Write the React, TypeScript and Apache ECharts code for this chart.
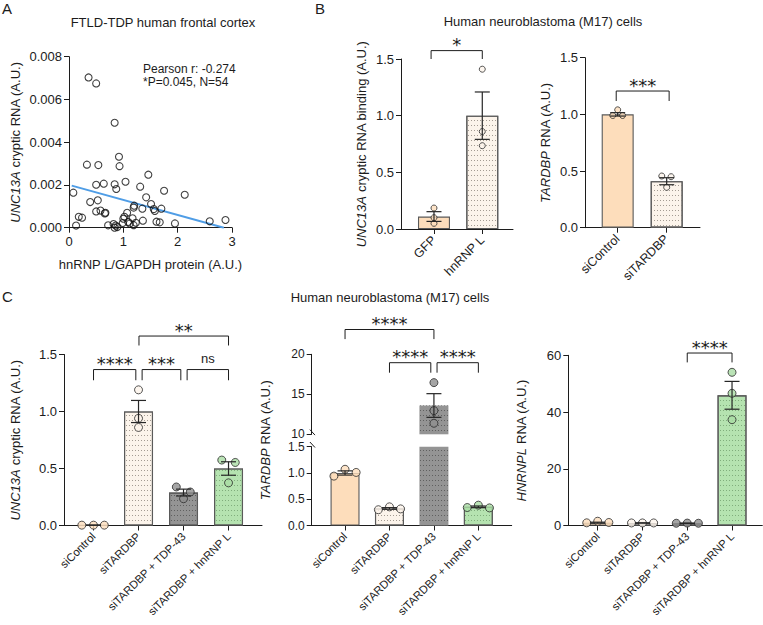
import React, { useEffect, useRef } from 'react';
import * as echarts from 'echarts';

const FONT = "'Liberation Sans', Arial, Helvetica, sans-serif";
const STAR_FONT = "'DejaVu Sans', sans-serif";
const INK = '#1c1c1c';

// ---------- Panel A : scatter ----------
const aX = [0.36, 0.50, 0.84, 0.92, 0.93, 0.33, 0.54, 1.46, 1.04, 0.50, 0.64, 0.84, 0.87, 1.31, 1.75, 2.13, 0.08, 0.39, 0.53, 1.42, 1.51, 1.20, 1.19, 1.35, 1.56, 1.58, 1.70, 0.58, 0.67, 0.50, 0.66, 0.18, 0.24, 1.07, 1.02, 1.00, 1.17, 1.36, 1.09, 1.12, 1.19, 1.23, 0.13, 0.72, 0.82, 0.86, 0.84, 0.89, 0.99, 1.61, 1.67, 1.95, 2.59, 2.88];
const aY = [0.00703, 0.00675, 0.00491, 0.00332, 0.00288, 0.00295, 0.00293, 0.00248, 0.00215, 0.00201, 0.00206, 0.00203, 0.00181, 0.00192, 0.00173, 0.00154, 0.00164, 0.00120, 0.00128, 0.00142, 0.00111, 0.00103, 0.00094, 0.00089, 0.00087, 0.00078, 0.00089, 0.00080, 0.00070, 0.00076, 0.00067, 0.00051, 0.00047, 0.00070, 0.00051, 0.00042, 0.00044, 0.00033, 0.00027, 0.00020, 0.00012, 0.00023, 0.00010, 0.00011, 0.00017, 0.00010, 0.00000, 0.00003, 0.00022, 0.00028, 0.00025, 0.00020, 0.00030, 0.00036];
const aFitX = [0.05, 2.85];
const aFitY = [0.00197, 0.0];

// ---------- Panel B left ----------
const bLeftCats = ['GFP', 'hnRNP L'];
const bLeftMeans = [0.11, 1.0];
const bLeftSem = [0.043, 0.209];
const bLeftPoints = [[0.185, 0.10, 0.05], [1.41, 0.86, 0.735]];
const bLeftJitter = [[0, 0, 0], [0, 0, 0]];
const bLeftKinds = ['peach', 'cream'];
const bLeftBrackets = [[-0.06, 1.0, 1.574, 1.5]];
const bLeftMarks = ['*'];

// ---------- Panel B right ----------
const bRightCats = ['siControl', 'siTARDBP'];
const bRightMeans = [1.0, 0.41];
const bRightSem = [0.015, 0.031];
const bRightPoints = [[0.99, 1.04, 0.99], [0.456, 0.45, 0.356]];
const bRightJitter = [[-0.1, 0, 0.1], [-0.1, 0.09, 0]];
const bRightKinds = ['peach', 'cream'];
const bRightBrackets = [[-0.03, 1.05, 1.206, 1.118]];
const bRightMarks = ['***'];

// ---------- Panel C ----------
const cCats = ['siControl', 'siTARDBP', 'siTARDBP + TDP-43', 'siTARDBP + hnRNP L'];
const cKinds = ['peach', 'cream', 'gray', 'green'];

const cLeftMeans = [0.003, 1.0, 0.289, 0.50];
const cLeftSem = [0.001, 0.097, 0.03, 0.059];
const cLeftPoints = [[0.003, 0.003, 0.003], [1.19, 0.94, 0.86], [0.338, 0.294, 0.235], [0.574, 0.553, 0.374]];
const cLeftJitter = [[-0.26, 0, 0.24], [0, 0, 0], [-0.16, 0.15, 0], [-0.15, 0.15, 0]];
const cLeftBrackets = [[0, 0.94, 1.368, 1.274], [1.08, 1.94, 1.368, 1.274], [2.08, 3.0, 1.368, 1.274], [1.01, 3.0, 1.662, 1.579]];
const cLeftMarks = ['****', '***', 'ns', '**'];

const cMidMeans = [1.0, 0.325, 13.6, 0.355];
const cMidSem = [0.04, 0.015, 1.48, 0.016];
const cMidPoints = [[0.94, 1.07, 1.01], [0.30, 0.355, 0.316], [16.46, 12.96, 11.38], [0.342, 0.387, 0.335]];
const cMidJitter = [[-0.25, 0, 0.25], [-0.25, 0, 0.25], [0, 0, 0], [-0.25, 0, 0.25]];
const cMidBreak = [1.5, 10];
const cMidBrackets = [[0, 2.0, 23.1, 21.9], [1.0, 1.93, 18.95, 17.7], [2.07, 3.0, 18.95, 17.7]];
const cMidMarks = ['****', '****', '****'];

const cRightMeans = [1.0, 0.9, 0.8, 45.9];
const cRightSem = [0.17, 0.03, 0.03, 4.9];
const cRightPoints = [[0.94, 1.5, 1.06], [0.9, 0.9, 0.9], [0.8, 0.85, 0.8], [54.0, 46.6, 37.3]];
const cRightJitter = [[-0.245, 0, 0.25], [-0.245, 0, 0.25], [-0.245, 0, 0.25], [0, 0, 0]];
const cRightBrackets = [[2.0, 3.0, 60.8, 57.5]];
const cRightMarks = ['****'];

const KIND: Record<string, { fill: string; dots: string; point: string }> = {
  peach: { fill: '#FDDDBB', dots: '', point: '#FDDDBB' },
  cream: { fill: '#FCF4EB', dots: '#a39b92', point: '#FCF4EB' },
  gray: { fill: '#949494', dots: '#5f5f5f', point: '#8e8e8e' },
  green: { fill: '#B5E3B0', dots: '#80ad7c', point: '#A9DCA4' },
};

const lineStyle = { color: INK, width: 1 };
const labelBase = { color: INK, fontFamily: FONT, fontSize: 13 };

function yAxisCfg(gridIndex: number, min: number, max: number, interval: number, digits: number, name: string, nameGap: number, showName = true, labelSize = 13) {
  return {
    type: 'value', gridIndex, min, max, interval,
    splitLine: { show: false },
    axisLine: { show: true, onZero: false, lineStyle },
    axisTick: { show: true, length: 5, lineStyle },
    axisLabel: { ...labelBase, fontSize: labelSize, lineHeight: 12, margin: 7, formatter: (v: number) => v.toFixed(digits) },
    name: showName ? name : '',
    nameLocation: 'middle',
    nameGap,
    nameTextStyle: {
      ...labelBase,
      rich: { i: { fontStyle: 'italic', fontFamily: FONT, fontSize: 13, color: INK } },
    },
  };
}

function catXAxis(gridIndex: number, cats: string[], min: number, max: number, fontSize: number, show = true) {
  const idx = cats.map((_, i) => i);
  return {
    type: 'value', gridIndex, min, max, show,
    splitLine: { show: false },
    axisLine: { show, onZero: false, lineStyle },
    axisTick: { show, customValues: idx, length: 5, lineStyle },
    axisLabel: {
      show, customValues: idx, rotate: 45, margin: 9, ...labelBase, fontSize,
      formatter: (v: number) => cats[Math.round(v)] ?? '',
    },
  };
}

function barData(means: number[], kinds: string[], keep: (m: number) => boolean = () => true, axisMax = Infinity) {
  return means.map((m, i) => {
    if (!keep(m)) return { value: [i, null] };
    const k = KIND[kinds[i]];
    const broken = m > axisMax;
    return {
      value: [i, m],
      itemStyle: {
        color: k.fill,
        borderColor: '#5a5a5a',
        borderWidth: broken ? 0 : 1.1,
        decal: k.dots ? { symbol: 'rect', symbolSize: 1, dashArrayX: [1, 2], dashArrayY: [1, 4], color: k.dots } : undefined,
      },
    };
  });
}

function pointData(points: number[][], jitter: number[][], kinds: string[], keep: (v: number) => boolean = () => true) {
  const out: any[] = [];
  points.forEach((grp, i) => grp.forEach((v, j) => {
    if (!keep(v)) return;
    out.push({ value: [i + jitter[i][j], v], itemStyle: { color: KIND[kinds[i]].point, borderColor: '#2a2a2a', borderWidth: 1 } });
  }));
  return out;
}

function errData(means: number[], sem: number[], keep: (m: number) => boolean = () => true) {
  const out: number[][] = [];
  means.forEach((m, i) => { if (keep(m)) out.push([i, m - sem[i], m + sem[i]]); });
  return out;
}

const errRender = (params: any, api: any) => {
  const x = api.value(0), lo = api.value(1), hi = api.value(2);
  const pLo = api.coord([x, lo]);
  const pHi = api.coord([x, hi]);
  const hw = 7.5;
  const st = { stroke: '#262626', lineWidth: 1.2, fill: 'none' };
  return {
    type: 'group',
    children: [
      { type: 'line', shape: { x1: pLo[0], y1: pLo[1], x2: pHi[0], y2: pHi[1] }, style: st },
      { type: 'line', shape: { x1: pHi[0] - hw, y1: pHi[1], x2: pHi[0] + hw, y2: pHi[1] }, style: st },
      { type: 'line', shape: { x1: pLo[0] - hw, y1: pLo[1], x2: pLo[0] + hw, y2: pLo[1] }, style: st },
    ],
  };
};

const bracketRender = (marks: string[]) => (params: any, api: any) => {
  const x1 = api.value(0), x2 = api.value(1), y = api.value(2), yd = api.value(3);
  const a = api.coord([x1, yd]);
  const b = api.coord([x1, y]);
  const c = api.coord([x2, y]);
  const d = api.coord([x2, yd]);
  const lab = marks[params.dataIndex];
  const star = lab.indexOf('*') >= 0;
  return {
    type: 'group',
    children: [
      { type: 'polyline', shape: { points: [a, b, c, d] }, style: { stroke: INK, lineWidth: 1, fill: 'none' } },
      {
        type: 'text', x: (b[0] + c[0]) / 2, y: b[1] - (star ? 6 : 11.5),
        style: {
          text: lab, fill: INK,
          fontFamily: star ? STAR_FONT : FONT, fontSize: star ? 18 : 13,
          align: 'center', verticalAlign: 'middle', textAlign: 'center', textVerticalAlign: 'middle',
        },
      },
    ],
  };
};

const breakRender = (params: any, api: any) => {
  const p = api.coord([api.value(0), api.value(1)]);
  return { type: 'line', shape: { x1: p[0] - 1.8, y1: p[1] - 4.7, x2: p[0] + 3.3, y2: p[1] + 0.8 }, style: { stroke: INK, lineWidth: 1 } };
};

function barPanel(g: number, means: number[], sem: number[], points: number[][], jitter: number[][], kinds: string[], brackets: number[][], marks: string[], barWidth: number, sym: number) {
  const base = { xAxisIndex: g, yAxisIndex: g, silent: true };
  return [
    { ...base, type: 'bar', barWidth, data: barData(means, kinds), z: 2 },
    { ...base, type: 'scatter', symbol: 'circle', symbolSize: sym, data: pointData(points, jitter, kinds), z: 3 },
    { ...base, type: 'custom', renderItem: errRender, data: errData(means, sem), z: 4 },
    { ...base, type: 'custom', renderItem: bracketRender(marks), data: brackets, z: 5 },
  ];
}

function buildOption() {
  const grids = [
    { left: 69, top: 56.7, width: 163, height: 171 },          // A
    { left: 401, top: 59, width: 112, height: 170 },           // B left
    { left: 585, top: 57.7, width: 115, height: 170 },         // B right
    { left: 64, top: 354.5, width: 198, height: 171 },         // C left
    { left: 311.7, top: 354.3, width: 200, height: 80 },       // C mid high
    { left: 311.7, top: 446.7, width: 200, height: 78.8 },     // C mid low
    { left: 568.3, top: 355.3, width: 194, height: 170.2 },    // C right
  ].map((g) => ({ ...g, containLabel: false, outerBoundsMode: 'none' }));

  const xAxis: any[] = [
    {
      type: 'value', gridIndex: 0, min: 0, max: 3, interval: 1,
      splitLine: { show: false },
      axisLine: { show: true, onZero: false, lineStyle },
      axisTick: { show: true, length: 5, lineStyle },
      axisLabel: { ...labelBase, margin: 7 },
      name: 'hnRNP L/GAPDH protein (A.U.)', nameLocation: 'middle', nameGap: 30,
      nameTextStyle: { ...labelBase },
    },
    catXAxis(1, bLeftCats, -0.683, 1.636, 12.5),
    catXAxis(2, bRightCats, -0.667, 1.68, 12.5),
    catXAxis(3, cCats, -0.656, 3.744, 11.3),
    catXAxis(4, cCats, -0.75, 3.75, 11.3, false),
    catXAxis(5, cCats, -0.75, 3.75, 11.3),
    catXAxis(6, cCats, -0.656, 3.676, 11.3),
  ];

  const yAxis: any[] = [
    yAxisCfg(0, 0, 0.008, 0.002, 3, '{i|UNC13A} cryptic RNA (A.U.)', 47),
    yAxisCfg(1, 0, 1.5, 0.5, 1, '{i|UNC13A} cryptic RNA binding (A.U.)', 33),
    yAxisCfg(2, 0, 1.5, 0.5, 1, '{i|TARDBP} RNA (A.U.)', 33.5),
    yAxisCfg(3, 0, 1.5, 0.5, 1, '{i|UNC13A} cryptic RNA (A.U.)', 42.5),
    yAxisCfg(4, 10, 20, 5, 0, '', 40, false, 12),
    yAxisCfg(5, 0, 1.5, 0.5, 1, '', 40, false, 12),
    yAxisCfg(6, 0, 60, 20, 0, '{i|HNRNPL} RNA (A.U.)', 40),
  ];

  const hi = (v: number) => v >= cMidBreak[1];
  const lo = (v: number) => v <= cMidBreak[0];
  const tall = (m: number) => m > cMidBreak[0];

  const series: any[] = [
    {
      type: 'scatter', xAxisIndex: 0, yAxisIndex: 0, silent: true, symbol: 'circle', symbolSize: 7,
      itemStyle: { color: 'rgba(255,255,255,0)', borderColor: '#111', borderWidth: 1.1 },
      data: aX.map((x, i) => [x, aY[i]]), z: 3,
    },
    {
      type: 'line', xAxisIndex: 0, yAxisIndex: 0, silent: true, symbol: 'none',
      lineStyle: { color: '#4f9de6', width: 2 },
      data: aFitX.map((x, i) => [x, aFitY[i]]), z: 2,
    },
    ...barPanel(1, bLeftMeans, bLeftSem, bLeftPoints, bLeftJitter, bLeftKinds, bLeftBrackets, bLeftMarks, 32, 6),
    ...barPanel(2, bRightMeans, bRightSem, bRightPoints, bRightJitter, bRightKinds, bRightBrackets, bRightMarks, 32, 6),
    ...barPanel(3, cLeftMeans, cLeftSem, cLeftPoints, cLeftJitter, cKinds, cLeftBrackets, cLeftMarks, 29, 8),
    ...barPanel(6, cRightMeans, cRightSem, cRightPoints, cRightJitter, cKinds, cRightBrackets, cRightMarks, 29, 8),
    // C middle, upper segment
    { type: 'bar', xAxisIndex: 4, yAxisIndex: 4, silent: true, barWidth: 29, clip: true, data: barData(cMidMeans, cKinds, tall, cMidBreak[0]), z: 2 },
    { type: 'scatter', xAxisIndex: 4, yAxisIndex: 4, silent: true, symbolSize: 8, data: pointData(cMidPoints, cMidJitter, cKinds, hi), z: 3 },
    { type: 'custom', xAxisIndex: 4, yAxisIndex: 4, silent: true, renderItem: errRender, data: errData(cMidMeans, cMidSem, tall), z: 4 },
    { type: 'custom', xAxisIndex: 4, yAxisIndex: 4, silent: true, renderItem: bracketRender(cMidMarks), data: cMidBrackets, z: 5 },
    { type: 'custom', xAxisIndex: 4, yAxisIndex: 4, silent: true, renderItem: breakRender, data: [[-0.75, cMidBreak[1]]], z: 5 },
    // C middle, lower segment
    { type: 'bar', xAxisIndex: 5, yAxisIndex: 5, silent: true, barWidth: 29, clip: true, data: barData(cMidMeans, cKinds, () => true, cMidBreak[0]), z: 2 },
    { type: 'scatter', xAxisIndex: 5, yAxisIndex: 5, silent: true, symbolSize: 8, data: pointData(cMidPoints, cMidJitter, cKinds, lo), z: 3 },
    { type: 'custom', xAxisIndex: 5, yAxisIndex: 5, silent: true, renderItem: errRender, data: errData(cMidMeans, cMidSem, (m) => !tall(m)), z: 4 },
    { type: 'custom', xAxisIndex: 5, yAxisIndex: 5, silent: true, renderItem: breakRender, data: [[-0.75, cMidBreak[0]]], z: 5 },
  ];

  const txt = (text: string, x: number, y: number, size: number, align = 'left') => ({
    type: 'text', x, y, silent: true,
    style: {
      text, fill: INK, fontFamily: FONT, fontSize: size,
      align, verticalAlign: 'middle', textAlign: align, textVerticalAlign: 'middle',
    },
  });

  const graphic = [
    txt('A', 2, 8, 15),
    txt('B', 315, 8, 15),
    txt('C', 2, 296, 15),
    txt('FTLD-TDP human frontal cortex', 163, 22, 13, 'center'),
    txt('Human neuroblastoma (M17) cells', 543, 21, 13, 'center'),
    txt('Human neuroblastoma (M17) cells', 390, 297, 13, 'center'),
    txt('Pearson r: -0.274', 143, 68.5, 12),
    txt('*P=0.045, N=54', 143, 81.5, 12),
    {
      type: 'text', x: 265, y: 440, rotation: Math.PI / 2, silent: true,
      style: {
        text: '{i|TARDBP} RNA (A.U.)', fill: INK, fontFamily: FONT, fontSize: 13,
        align: 'center', verticalAlign: 'middle', textAlign: 'center', textVerticalAlign: 'middle',
        rich: { i: { fontStyle: 'italic', fontFamily: FONT, fontSize: 13, fill: INK } },
      },
    },
  ];

  return { animation: false, backgroundColor: '#ffffff', grid: grids, xAxis, yAxis, series, graphic };
}

export default function App() {
  const ref = useRef<HTMLDivElement>(null);
  useEffect(() => {
    const chart = echarts.init(ref.current as HTMLDivElement, null, { renderer: 'svg', width: 763, height: 625 });
    chart.setOption(buildOption() as any);
    return () => chart.dispose();
  }, []);
  return <div ref={ref} style={{ position: 'absolute', left: 0, top: 0, width: 763, height: 625, background: '#fff' }} />;
}
